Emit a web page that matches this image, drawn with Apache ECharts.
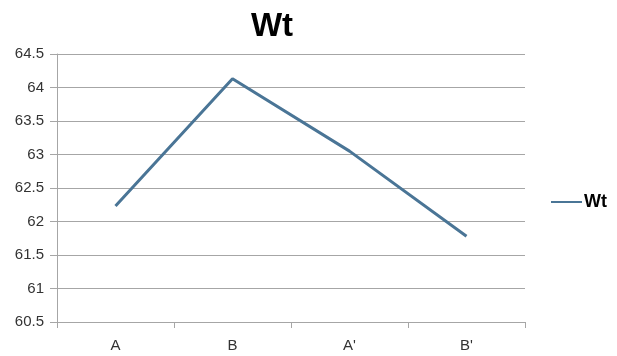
<!DOCTYPE html>
<html>
<head>
<meta charset="utf-8">
<script src="https://cdn.jsdelivr.net/npm/echarts@6/dist/echarts.min.js"></script>
<style>
  html, body { margin: 0; padding: 0; background: #fff; }
  #chart { width: 617px; height: 356px; }
</style>
</head>
<body>
<div id="chart"></div>
<script>
// Category labels along the x axis
const categories = ['A', 'B', "A'", "B'"];
// Wt measured for each category
const wtValues = [62.23, 64.13, 63.05, 61.78];
// Value axis range and step
const yMin = 60.5;
const yMax = 64.5;
const yStep = 0.5;

const chart = echarts.init(document.getElementById('chart'), null, { renderer: 'canvas' });
const axisGrey = '#a6a6a6';
const labelColor = '#333333';
const fontFamily = 'Liberation Sans, Arial, sans-serif';

chart.setOption({
  animation: false,
  backgroundColor: '#ffffff',
  title: {
    text: 'Wt',
    left: 267,
    textAlign: 'center',
    top: 5,
    textStyle: { fontSize: 33, fontWeight: 'bold', color: '#000', fontFamily: fontFamily }
  },
  legend: {
    left: 551,
    top: 193,
    padding: 0,
    itemWidth: 31,
    itemHeight: 14,
    itemGap: 2,
    icon: 'path://M0,6 L31,6 L31,8 L0,8 Z',
    textStyle: { fontSize: 18, fontWeight: 'bold', color: '#000', fontFamily: fontFamily, padding: [0, 0, 0, -3] },
    data: [{ name: 'Wt' }]
  },
  grid: { left: 57, right: 92, top: 54, bottom: 34, containLabel: false },
  xAxis: {
    type: 'category',
    data: categories,
    boundaryGap: true,
    axisLine: { show: true, lineStyle: { color: axisGrey, width: 1 } },
    axisTick: { show: true, length: 6, lineStyle: { color: axisGrey } },
    axisLabel: { color: labelColor, fontSize: 15, margin: 16, fontFamily: fontFamily },
    splitLine: { show: false }
  },
  yAxis: {
    type: 'value',
    min: yMin,
    max: yMax,
    interval: yStep,
    axisLine: { show: true, lineStyle: { color: axisGrey, width: 1 } },
    axisTick: { show: true, length: 7, lineStyle: { color: axisGrey } },
    axisLabel: { color: labelColor, fontSize: 15, margin: 13, fontFamily: fontFamily },
    splitLine: { show: true, lineStyle: { color: axisGrey, width: 1 } }
  },
  series: [{
    name: 'Wt',
    type: 'line',
    data: wtValues,
    symbol: 'none',
    lineStyle: { color: '#4a7596', width: 3 },
    itemStyle: { color: '#4a7596' }
  }]
});
</script>
</body>
</html>
